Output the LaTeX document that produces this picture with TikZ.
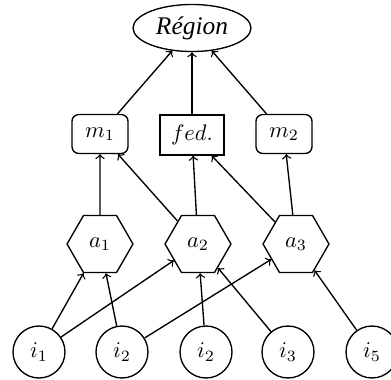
\documentclass[tikz,border=0pt]{standalone}
\usepackage{fontspec}
\newfontfamily\regionfont{Liberation Serif}
\usetikzlibrary{shapes.geometric}
\tikzset{
  inp/.style={circle,draw,minimum size=23.1pt,inner sep=0pt},
  agg/.style={regular polygon,regular polygon sides=6,draw,minimum size=29.3pt,inner sep=0pt},
  meas/.style={rectangle,draw,rounded corners=3pt,minimum width=24.9pt,minimum height=17.3pt,inner sep=1pt},
  fedbox/.style={rectangle,draw,minimum width=28.4pt,minimum height=17.8pt,inner sep=1pt},
  top/.style={ellipse,draw,minimum width=52.4pt,minimum height=20.9pt,inner sep=0pt,font=\regionfont\itshape\fontsize{11.3}{13}\selectfont}
}
\begin{document}
\begin{tikzpicture}[x=0.4444pt,y=-0.4444pt,semithick]
\useasboundingbox (0,0) rectangle (391,379);
% region
\node[top] (R) at (192,28) {Région};
\node[meas] (M1) at (100,134) {$m_1$};
\node[fedbox] (F) at (192,135) {$fed.$};
\node[meas] (M2) at (284,134) {$m_2$};
% aggregates
\node[agg] (A1) at (100,244) {$a_1$};
\node[agg] (A2) at (198,244) {$a_2$};
\node[agg] (A3) at (296,244) {$a_3$};
% inputs
\node[inp] (I1) at (39,352) {$i_1$};
\node[inp] (I2) at (122,352) {$i_2$};
\node[inp] (I2b) at (206,352) {$i_2$};
\node[inp] (I3) at (288,352) {$i_3$};
\node[inp] (I5) at (372,352) {$i_5$};
\draw[->] (M1) -- (R);
\draw[->] (F) -- (R);
\draw[->] (M2) -- (R);
\draw[->] (A1) -- (M1);
\draw[->] (A2) -- (M1);
\draw[->] (A2) -- (F);
\draw[->] (A3) -- (F);
\draw[->] (A3) -- (M2);
\draw[->] (I1) -- (A1);
\draw[->] (I1) -- (A2);
\draw[->] (I2) -- (A1);
\draw[->] (I2) -- (A3);
\draw[->] (I2b) -- (A2);
\draw[->] (I3) -- (A2);
\draw[->] (I5) -- (A3);
\end{tikzpicture}
\end{document}
